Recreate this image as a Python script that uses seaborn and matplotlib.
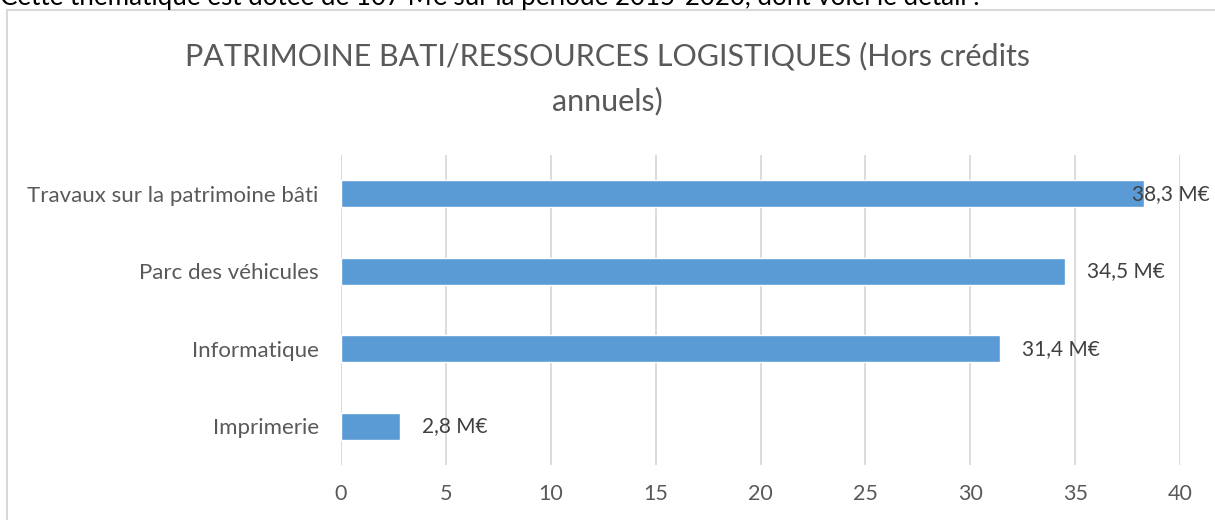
import pandas as pd
import seaborn as sns
import matplotlib.pyplot as plt
from matplotlib.patches import Rectangle

# Values (M€)
categories = ['Travaux sur la patrimoine bâti', 'Parc des véhicules', 'Informatique', 'Imprimerie']
values = [38.3, 34.5, 31.4, 2.8]
value_labels = ['38,3 M€', '34,5 M€', '31,4 M€', '2,8 M€']
x_ticks = [0, 5, 10, 15, 20, 25, 30, 35, 40]

df = pd.DataFrame({'Poste': categories, 'Montant': values})

sns.set_theme(style='white')
plt.rcParams['font.family'] = ['Lato', 'DejaVu Sans']

fig = plt.figure(figsize=(12.15, 5.2), dpi=100)
ax = fig.add_axes([0.2807, 0.1058, 0.6905, 0.5962])

sns.barplot(data=df, x='Montant', y='Poste', color='#5B9BD5', width=0.35,
            saturation=1, ax=ax, zorder=3)

ax.set_xlim(0, 40)
ax.set_ylim(3.5, -0.5)
ax.set_xticks(x_ticks)
ax.set_xticklabels([str(t) for t in x_ticks])
ax.xaxis.grid(True, color='#D9D9D9', linewidth=1.3, zorder=0)
ax.set_xlabel('')
ax.set_ylabel('')
for s in ax.spines.values():
    s.set_visible(False)
ax.tick_params(axis='x', length=0, pad=14, labelsize=15.5, labelcolor='#595959')
ax.tick_params(axis='y', length=0, pad=16, labelsize=16, labelcolor='#595959')

# data labels (the last bar's label is pushed back inside by the chart edge)
for i, (v, lab) in enumerate(zip(values, value_labels)):
    dx = 16 if v < 36 else -9
    ax.annotate(lab, xy=(v, i), xytext=(dx, 0), textcoords='offset points',
                va='center', ha='left', fontsize=15, color='#404040', zorder=4)

fig.text(0.5, 1 - 56 / 520, 'PATRIMOINE BATI/RESSOURCES LOGISTIQUES (Hors crédits',
         ha='center', va='center', fontsize=22, color='#595959')
fig.text(0.5, 1 - 101 / 520, 'annuels)',
         ha='center', va='center', fontsize=22, color='#595959')

# chart frame and the clipped sentence above it
fig.patches.append(Rectangle((7 / 1215, -0.1), 1.2, 1 - 9.5 / 520 + 0.1,
                             transform=fig.transFigure, fill=False,
                             edgecolor='#D9D9D9', linewidth=1.5))
fig.text(0.0, 1 - 5 / 520, 'Cette thématique est dotée de 107 M€ sur la période 2015-2020, dont voici le détail :',
         ha='left', va='baseline', fontsize=18.7, color='black')

fig.savefig('out.png', dpi=100)
